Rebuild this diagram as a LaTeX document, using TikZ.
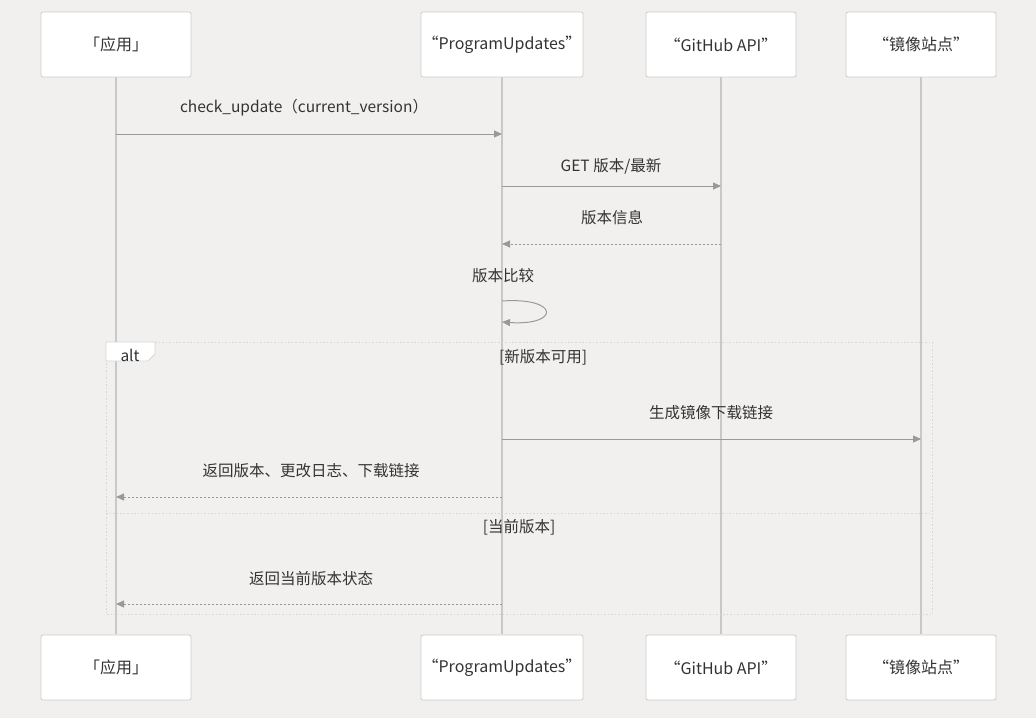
\documentclass[tikz,border=0pt]{standalone}
\usepackage{fontspec}
\setmainfont{Noto Sans CJK SC}
\usetikzlibrary{arrows.meta}
\definecolor{bg}{HTML}{F1F0EE}
\definecolor{txt}{HTML}{333333}
\definecolor{msg}{HTML}{999999}
\definecolor{life}{HTML}{C8C8C8}
\definecolor{boxb}{HTML}{CCCCCC}
\definecolor{frm}{HTML}{D6D6D6}
\tikzset{
  actor/.style={draw=boxb, fill=white, rounded corners=2pt, line width=0.8pt, minimum width=150pt, minimum height=65pt, inner sep=0pt, font=\fontsize{16}{18}\selectfont, text=txt},
  lifeline/.style={draw=life, line width=1.6pt},
  call/.style={draw=msg, line width=1pt, -{Triangle[length=8pt,width=7pt]}},
  reply/.style={draw=msg, line width=1pt, dash pattern=on 2pt off 2pt, -{Triangle[length=8pt,width=7pt]}},
  lbl/.style={font=\fontsize{15.5}{18}\selectfont, text=txt, inner sep=0pt, yshift=-2pt},
  frameline/.style={draw=frm, line width=1pt, dash pattern=on 1.5pt off 2pt},
}
\begin{document}
\begin{tikzpicture}[x=1pt,y=-1pt]
\fill[bg] (0,0) rectangle (1036,718);
\useasboundingbox (0,0) rectangle (1036,718);
% lifelines
\coordinate (l1t) at (116,76); \coordinate (l1b) at (116,634);
\coordinate (l2t) at (502,76); \coordinate (l2b) at (502,634);
\coordinate (l3t) at (721,76); \coordinate (l3b) at (721,634);
\coordinate (l4t) at (921,76); \coordinate (l4b) at (921,634);
\draw[lifeline] (l1t) -- (l1b);
\draw[lifeline] (l2t) -- (l2b);
\draw[lifeline] (l3t) -- (l3b);
\draw[lifeline] (l4t) -- (l4b);
% actors
\node[actor] (a1) at (116,44.5) {「应用」};
\node[actor, minimum width=162pt] (a2) at (502,44.5) {“ProgramUpdates”};
\node[actor] (a3) at (721,44.5) {“GitHub API”};
\node[actor] (a4) at (921,44.5) {“镜像站点”};
\node[actor] (b1) at (116,667.5) {「应用」};
\node[actor, minimum width=162pt] (b2) at (502,667.5) {“ProgramUpdates”};
\node[actor] (b3) at (721,667.5) {“GitHub API”};
\node[actor] (b4) at (921,667.5) {“镜像站点”};
% alt frame
\draw[frameline] (106,342) rectangle (932,614);
\draw[frameline] (106,513) -- (932,513);
\fill[white] (106,342) -- (155,342) -- (155,354) -- (148,361) -- (106,361) -- cycle;
\draw[draw=frm, line width=0.8pt] (106,342) -- (155,342) -- (155,354) -- (148,361) -- (106,361) -- cycle;
\node[lbl] (alt) at (130,353) {alt};
\node[lbl] (c1) at (543,355) {[新版本可用]};
\node[lbl] (c2) at (519,525) {[当前版本]};
% messages
\coordinate (m1s) at (116,134); \coordinate (m1e) at (502,134);
\draw[call] (m1s) -- (m1e);
\node[lbl] (t1) at (304,106) {check\_update（current\_version）};
\coordinate (m2s) at (502,186); \coordinate (m2e) at (721,186);
\draw[call] (m2s) -- (m2e);
\node[lbl] (t2) at (611,164) {GET 版本/最新};
\coordinate (m3s) at (721,244); \coordinate (m3e) at (502,244);
\draw[reply] (m3s) -- (m3e);
\node[lbl] (t3) at (612,216) {版本信息};
\coordinate (m4s) at (502,301); \coordinate (m4e) at (502,322);
\draw[call] (m4s) .. controls (560,297) and (560,326) .. (m4e);
\node[lbl] (t4) at (503,274) {版本比较};
\coordinate (m5s) at (502,439); \coordinate (m5e) at (921,439);
\draw[call] (m5s) -- (m5e);
\node[lbl] (t5) at (711,411) {生成镜像下载链接};
\coordinate (m6s) at (502,497); \coordinate (m6e) at (116,497);
\draw[reply] (m6s) -- (m6e);
\node[lbl] (t6) at (311,469) {返回版本、更改日志、下载链接};
\coordinate (m7s) at (502,604); \coordinate (m7e) at (116,604);
\draw[reply] (m7s) -- (m7e);
\node[lbl] (t7) at (311,577) {返回当前版本状态};
\end{tikzpicture}
\end{document}
